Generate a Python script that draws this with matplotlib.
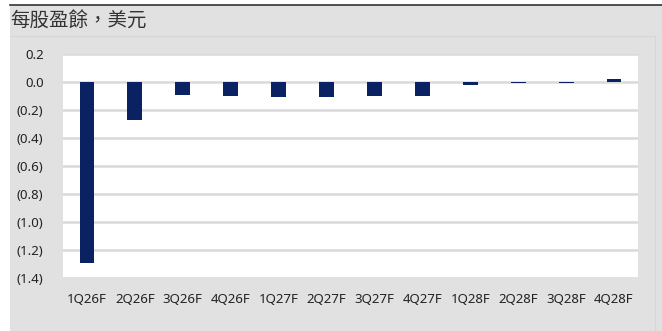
import matplotlib.pyplot as plt
from matplotlib.patches import Rectangle
from matplotlib.lines import Line2D
from matplotlib.ticker import FuncFormatter

# quarterly EPS estimates, USD
quarters = ['1Q26F', '2Q26F', '3Q26F', '4Q26F', '1Q27F', '2Q27F',
            '3Q27F', '4Q27F', '1Q28F', '2Q28F', '3Q28F', '4Q28F']
eps = [-1.29, -0.27, -0.09, -0.10, -0.11, -0.11,
       -0.10, -0.10, -0.02, -0.005, -0.005, 0.02]
yticks = [0.2, 0.0, -0.2, -0.4, -0.6, -0.8, -1.0, -1.2, -1.4]

plt.rcParams['font.family'] = ['Noto Sans CJK TC', 'DejaVu Sans']

navy = '#0b2262'
bg = '#e1e1e1'

fig = plt.figure(figsize=(6.62, 3.31), dpi=100)
fig.patch.set_facecolor('white')

# grey panel with a dark rule on top
fig.patches.append(Rectangle((10 / 662, 0), 1, 1 - 5 / 331, transform=fig.transFigure,
                             facecolor=bg, edgecolor='none', zorder=-5))
fig.lines.append(Line2D([10 / 662, 1], [1 - 5 / 331, 1 - 5 / 331], transform=fig.transFigure,
                        color='#333333', lw=1.2, zorder=-4))
fig.lines.append(Line2D([10 / 662, 655 / 662], [1 - 36 / 331, 1 - 36 / 331],
                        transform=fig.transFigure, color='#d6d6d6', lw=0.8, zorder=-4))
fig.lines.append(Line2D([655 / 662, 655 / 662], [0, 1 - 36 / 331],
                        transform=fig.transFigure, color='#d6d6d6', lw=0.8, zorder=-4))

fig.text(10 / 662, 1 - 21 / 331, '每股盈餘，美元', fontsize=14, color='#333333',
         va='center', ha='left')

ax = fig.add_axes([63 / 662, 1 - 278 / 331, 575 / 662, 224 / 331])
ax.set_facecolor('white')

x = range(len(quarters))
ax.bar(x, eps, width=0.31, color=navy, zorder=3)

ax.set_xlim(-0.5, len(quarters) - 0.5)
ax.set_ylim(-1.4, 0.2)
ax.set_yticks(yticks)
ax.yaxis.set_major_formatter(FuncFormatter(
    lambda v, p: f'({abs(v):.1f})' if v < -1e-9 else f'{v:.1f}'))
ax.set_xticks(list(x))
ax.set_xticklabels(quarters)

ax.grid(axis='y', color='#d9d9d9', lw=1.8, zorder=1)
ax.tick_params(axis='both', length=0, labelsize=9.5, colors='#222222')
ax.tick_params(axis='y', pad=14)
ax.tick_params(axis='x', pad=11)
for lbl in ax.get_xticklabels() + ax.get_yticklabels():
    lbl.set_family(['Noto Sans', 'DejaVu Sans'])
for sp in ax.spines.values():
    sp.set_visible(False)

fig.savefig('out.png', dpi=100, facecolor=fig.get_facecolor())
